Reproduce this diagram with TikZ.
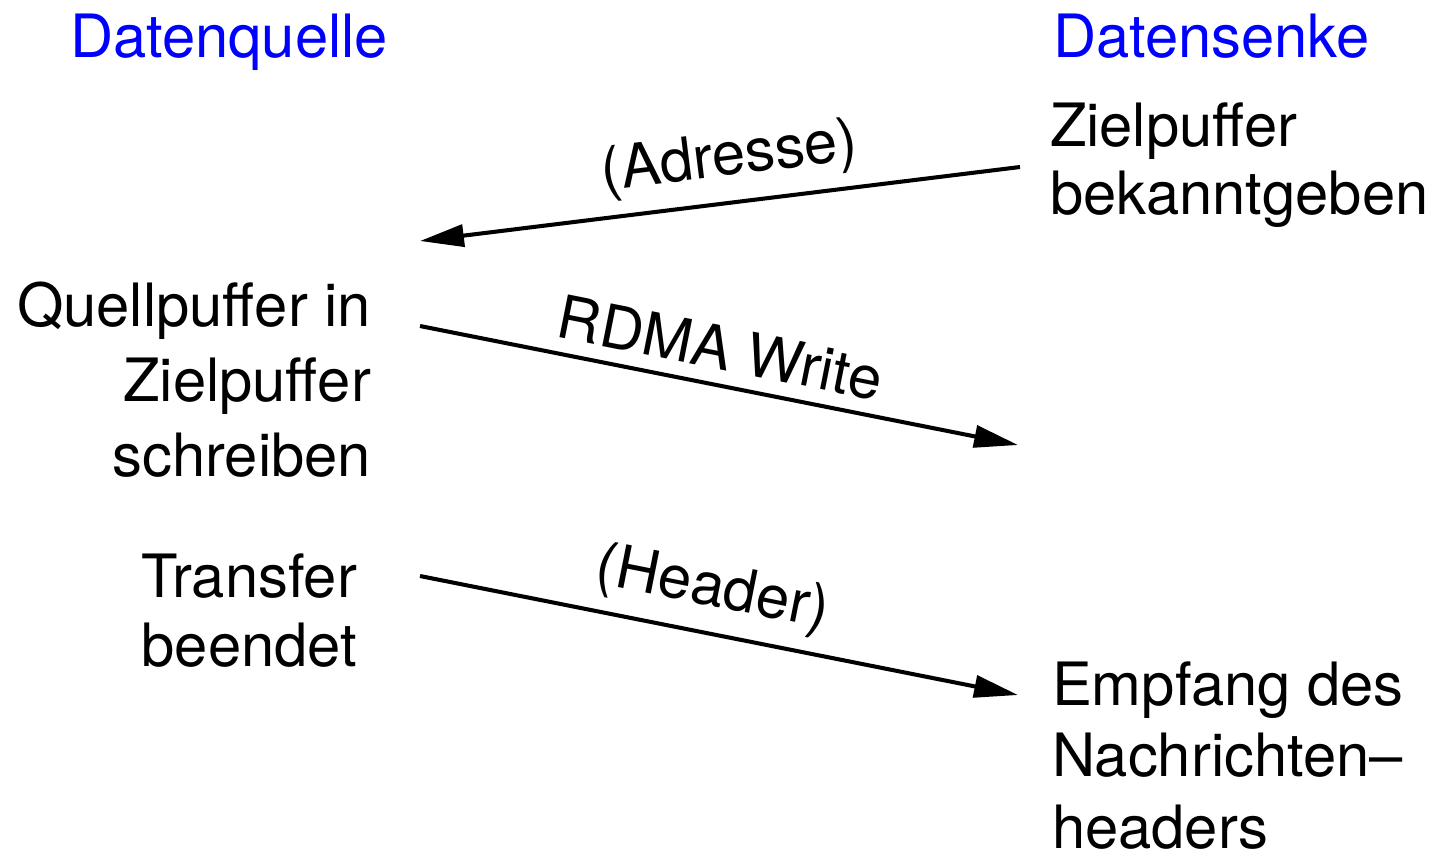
\documentclass[tikz,border=0pt]{standalone}
\usepackage{fontspec}
\setmainfont{TeX Gyre Heros}
\usetikzlibrary{arrows.meta}
\begin{document}
\begin{tikzpicture}[x=0.02cm, y=-0.02cm,
  every node/.style={inner sep=0pt, outer sep=0pt},
  head/.style={text=blue, font=\fontsize{34}{40}\selectfont, anchor=base west},
  msg/.style={line width=2.3pt, -{Triangle[length=25pt, width=12.5pt]}},
  lbl/.style={font=\fontsize{34}{40}\selectfont, sloped, above=0.3cm}
]
\useasboundingbox (0,0) rectangle (1435,856);

% column headings
\node[head] (src) at (70,57) {Datenquelle};
\node[head] (snk) at (1053,57) {Datensenke};

% receiver side (anchored at the baseline of the last line)
\node[anchor=base west, align=left, font=\fontsize{34}{38.5}\selectfont]
  (announce) at (1050,214) {Zielpuffer\\bekanntgeben};
\node[anchor=base west, align=left, font=\fontsize{34}{40.5}\selectfont]
  (recv) at (1052,848) {Empfang des\\Nachrichten–\\headers};

% sender side
\node[anchor=base east, align=right, font=\fontsize{34}{42.5}\selectfont]
  (write) at (371,476) {Quellpuffer in\\Zielpuffer\\schreiben};
\node[anchor=base east, align=right, font=\fontsize{34}{39}\selectfont]
  (done) at (357,666) {Transfer\\beendet};

% message end points
\coordinate (a1) at (1020,167);
\coordinate (a2) at (420,241);
\coordinate (b1) at (420,326);
\coordinate (b2) at (1018,445);
\coordinate (c1) at (420,576);
\coordinate (c2) at (1018,695);

\draw[msg] (a1) -- (a2) node[lbl, pos=0.475] (addr) {(Adresse)};
\draw[msg] (b1) -- (b2) node[lbl, pos=0.49] (rdma) {RDMA Write};
\draw[msg] (c1) -- (c2) node[lbl, pos=0.475] (hdr) {(Header)};
\end{tikzpicture}
\end{document}
